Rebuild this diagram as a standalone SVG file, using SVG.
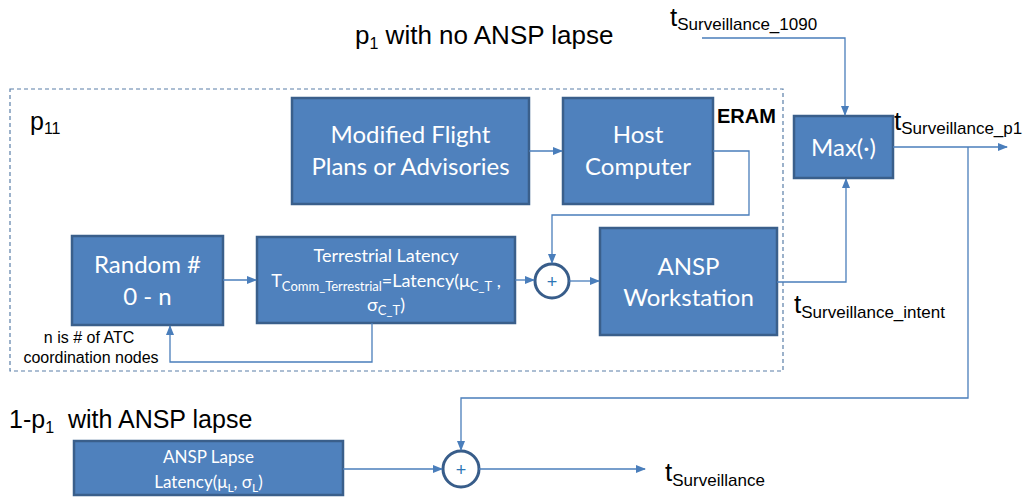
<svg xmlns="http://www.w3.org/2000/svg" width="1030" height="497" viewBox="0 0 1030 497">
<defs>
<marker id="arr" markerWidth="10" markerHeight="8" refX="9" refY="4" orient="auto" markerUnits="userSpaceOnUse">
<path d="M0,0 L10,4 L0,8 z" fill="#4A7EBB"/>
</marker>
<style>
.box{fill:#4F81BD;stroke:#3A5F8B;stroke-width:2.5}
.bt{font-family:Lato,"Open Sans",sans-serif;fill:#fff;text-anchor:middle}
.big{font-size:24px}
.sm{font-size:18px}
.lbl{font-family:"Liberation Sans",Arial,sans-serif;fill:#000}
.con{fill:none;stroke:#4A7EBB;stroke-width:1.3}
.sum{fill:#fff;stroke:#385D8A;stroke-width:3}
.plus{font-family:"Liberation Sans",Arial,sans-serif;font-size:18px;fill:#2E75B6;text-anchor:middle}
</style>
</defs>
<rect width="1030" height="497" fill="#fff"/>

<rect id="region-p11" x="10" y="89" width="773" height="282" fill="none" stroke="#5A7FA8" stroke-width="1.2" stroke-dasharray="4,3"/>

<g id="labels">
<text class="lbl" x="355" y="44" font-size="26">p<tspan font-size="16" dy="5">1</tspan><tspan dy="-5"> with no ANSP lapse</tspan></text>
<text class="lbl" x="9" y="428" font-size="25" xml:space="preserve">1-p<tspan font-size="16" dy="5">1</tspan><tspan dy="-5">  with ANSP lapse</tspan></text>
<text class="lbl" x="30" y="130" font-size="25">p<tspan font-size="16" dy="4">11</tspan></text>
<text class="lbl" x="717" y="123" font-size="20" font-weight="bold">ERAM</text>
<text class="lbl" x="89" y="343" font-size="16" text-anchor="middle">n is # of ATC</text>
<text class="lbl" x="91" y="363" font-size="16" text-anchor="middle">coordination nodes</text>
<text class="lbl" x="670" y="26" font-size="26">t<tspan font-size="17" dy="4">Surveillance_1090</tspan></text>
<text class="lbl" x="894" y="130" font-size="26">t<tspan font-size="17" dy="4">Surveillance_p1</tspan></text>
<text class="lbl" x="794" y="313" font-size="26">t<tspan font-size="17" dy="5">Surveillance_intent</tspan></text>
<text class="lbl" x="665" y="481" font-size="26">t<tspan font-size="17" dy="5">Surveillance</tspan></text>
</g>

<g id="node-modified">
<rect class="box" x="292" y="98" width="237" height="106"/>
<text class="bt big" x="410.5" y="143">Modified Flight</text>
<text class="bt big" x="410.5" y="175">Plans or Advisories</text>
</g>
<g id="node-host">
<rect class="box" x="563" y="98" width="150" height="106"/>
<text class="bt big" x="638" y="143">Host</text>
<text class="bt big" x="638" y="175">Computer</text>
</g>
<g id="node-random">
<rect class="box" x="72" y="236" width="151" height="89"/>
<text class="bt big" x="147.5" y="273">Random #</text>
<text class="bt big" x="147.5" y="305">0 - n</text>
</g>
<g id="node-terrestrial">
<rect class="box" x="257" y="237" width="258" height="86"/>
<text class="bt sm" x="386" y="262">Terrestrial Latency</text>
<text class="bt sm" x="386" y="287">T<tspan font-size="13" dy="4">Comm_Terrestrial</tspan><tspan dy="-4">=Latency(μ</tspan><tspan font-size="13" dy="4">C_T</tspan><tspan dy="-4"> ,</tspan></text>
<text class="bt sm" x="386" y="311">σ<tspan font-size="13" dy="4">C_T</tspan><tspan dy="-4">)</tspan></text>
</g>
<g id="node-sum1">
<circle class="sum" cx="552" cy="281" r="17"/>
<text class="plus" x="552" y="288">+</text>
</g>
<g id="node-ansp-workstation">
<rect class="box" x="600" y="228" width="177" height="107"/>
<text class="bt big" x="688.5" y="275">ANSP</text>
<text class="bt big" x="688.5" y="306">Workstation</text>
</g>
<g id="node-max">
<rect class="box" x="794" y="116" width="99" height="62"/>
<text class="bt big" x="843.5" y="156">Max(·)</text>
</g>
<g id="node-ansp-lapse">
<rect class="box" x="74" y="441" width="269" height="54"/>
<text class="bt" font-size="17" x="208.5" y="463">ANSP Lapse</text>
<text class="bt" font-size="17" x="208.5" y="488">Latency(μ<tspan font-size="12" dy="4">L</tspan><tspan dy="-4">, σ</tspan><tspan font-size="12" dy="4">L</tspan><tspan dy="-4">)</tspan></text>
</g>
<g id="node-sum2">
<circle class="sum" cx="461" cy="469" r="18"/>
<text class="plus" x="461" y="476">+</text>
</g>

<g id="connectors">
<path class="con" d="M529,151 H562" marker-end="url(#arr)"/>
<path class="con" d="M713,151 H749 V215 H552 V263" marker-end="url(#arr)"/>
<path class="con" d="M223,280 H256" marker-end="url(#arr)"/>
<path class="con" d="M515,280 H534" marker-end="url(#arr)"/>
<path class="con" d="M569,281 H599" marker-end="url(#arr)"/>
<path class="con" d="M372,323 V362 H170 V326" marker-end="url(#arr)"/>
<path class="con" d="M777,282 H846 V179" marker-end="url(#arr)"/>
<path class="con" d="M702,38 H845 V115" marker-end="url(#arr)"/>
<path class="con" d="M893,147 H1007" marker-end="url(#arr)"/>
<path class="con" d="M968,147 V398 H461 V450" marker-end="url(#arr)"/>
<path class="con" d="M343,469 H442" marker-end="url(#arr)"/>
<path class="con" d="M479,469 H645" marker-end="url(#arr)"/>
</g>
</svg>
